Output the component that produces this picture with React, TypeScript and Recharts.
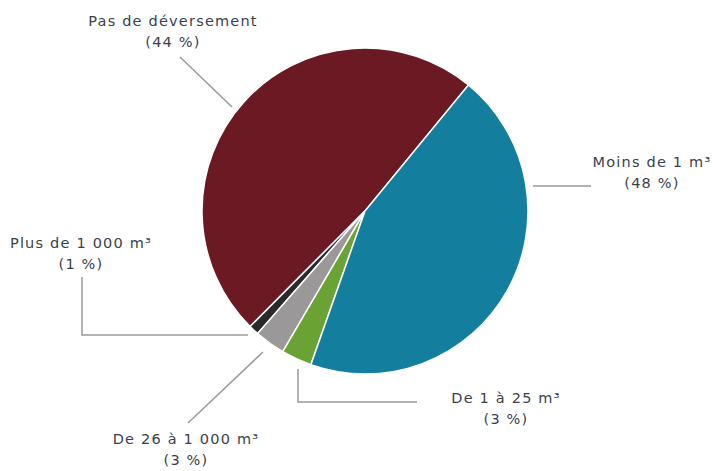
import { PieChart, Pie, Cell } from 'recharts'

// slice order follows the pie counter-clockwise from the red/teal split
const categories = ['Pas de déversement', 'Plus de 1 000 m³', 'De 26 à 1 000 m³', 'De 1 à 25 m³', 'Moins de 1 m³']
const sliceValues = [48, 1, 3, 3, 44]
const percentLabels = ['(44 %)', '(1 %)', '(3 %)', '(3 %)', '(48 %)']
const colors = ['#6b1a24', '#2a2a2a', '#9b9899', '#6aa333', '#147e9e']

const data = categories.map((name, i) => ({ name, value: sliceValues[i] }))

// label placement, offsets from the pie centre
const labelLayout = [
    { x: -192, y: -185, line: [[-185, -154], [-133, -104]] },
    { x: -284, y: 37, line: [[-117, 124], [-283, 124], [-283, 66]] },
    { x: -179, y: 233, line: [[-102, 141], [-177, 212]] },
    { x: 141, y: 192, line: [[-67, 158], [-67, 191], [52, 191]] },
    { x: 287, y: -44, line: [[168, -25], [226, -25]] },
]

const textStyle = {
    fontFamily: 'DejaVu Sans, sans-serif',
    fontSize: 14.5,
    letterSpacing: 1.2,
    fill: '#3b3f4c',
}

function renderLabel(props: any) {
    const { cx, cy, index } = props
    const l = labelLayout[index]
    const pts = l.line.map((p) => `${cx + p[0]},${cy + p[1]}`).join(' ')
    return (
        <g key={`lbl-${index}`}>
            <polyline points={pts} fill="none" stroke="#9a9a9a" strokeWidth={1.5} />
            <text x={cx + l.x} y={cy + l.y} textAnchor="middle" style={textStyle}>
                {categories[index]}
            </text>
            <text x={cx + l.x} y={cy + l.y + 21} textAnchor="middle" style={textStyle}>
                {percentLabels[index]}
            </text>
        </g>
    )
}

export default function App() {
    return (
        <div style={{ position: 'absolute', left: 0, top: 0, width: 713, height: 471, background: '#fff' }}>
            <PieChart width={713} height={471} margin={{ top: 0, right: 0, bottom: 0, left: 0 }}>
                <Pie
                    data={data}
                    dataKey="value"
                    nameKey="name"
                    cx={365}
                    cy={211}
                    outerRadius={163}
                    startAngle={50.6}
                    endAngle={410.6}
                    stroke="#ffffff"
                    strokeWidth={1.5}
                    label={renderLabel}
                    labelLine={false}
                    isAnimationActive={false}
                >
                    {data.map((d, i) => (
                        <Cell key={d.name} fill={colors[i]} />
                    ))}
                </Pie>
            </PieChart>
        </div>
    )
}
